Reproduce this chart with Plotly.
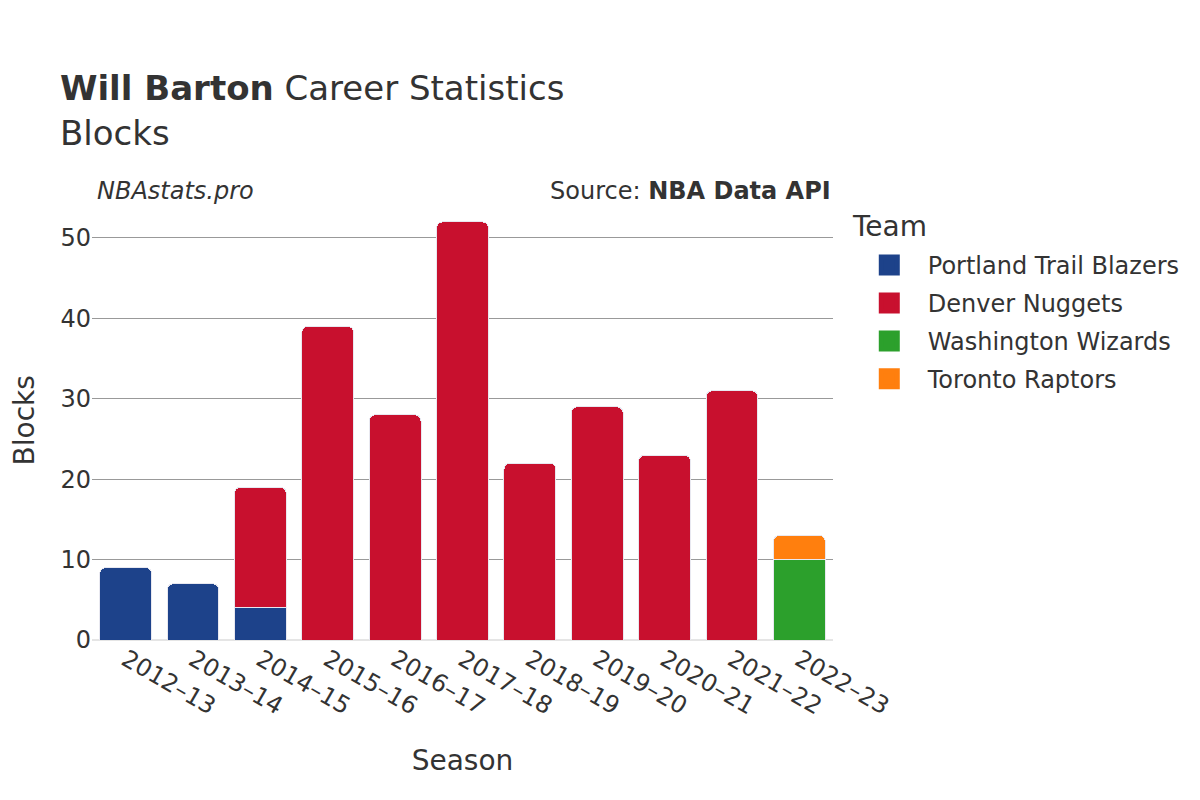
import plotly.graph_objects as go

seasons = ["2012–13", "2013–14", "2014–15", "2015–16", "2016–17", "2017–18",
           "2018–19", "2019–20", "2020–21", "2021–22", "2022–23"]

teams = ["Portland Trail Blazers", "Denver Nuggets", "Washington Wizards", "Toronto Raptors"]
colors = ["#1d428a", "#c8102e", "#2ca02c", "#ff7f0e"]

portland = [9, 7, 4, None, None, None, None, None, None, None, None]
denver = [None, None, 15, 39, 28, 52, 22, 29, 23, 31, None]
washington = [None, None, None, None, None, None, None, None, None, None, 10]
toronto = [None, None, None, None, None, None, None, None, None, None, 3]

values = [portland, denver, washington, toronto]

fig = go.Figure()
for name, col, vals in zip(teams, colors, values):
    fig.add_trace(go.Bar(
        x=seasons, y=vals, name=name, legendgroup=name, showlegend=False,
        marker=dict(color=col, line=dict(color="#e8e8f0", width=1)),
    ))
# legend proxies (larger squares)
for name, col in zip(teams, colors):
    fig.add_trace(go.Scatter(
        x=[None], y=[None], mode="markers", name=name, legendgroup=name,
        marker=dict(symbol="square", size=16, color=col,
                    line=dict(color=col, width=5)),
    ))

font_family = "DejaVu Sans"
fig.update_layout(
    barmode="stack",
    barcornerradius=6,
    bargap=0.23,
    width=1200, height=800,
    paper_bgcolor="white", plot_bgcolor="white",
    font=dict(family=font_family, color="#333333", size=24),
    margin=dict(l=84, r=375, t=193, b=168),
    title=dict(
        text="<b>Will Barton</b> Career Statistics<br>Blocks",
        x=0.0433, xanchor="left", y=0.8845, yanchor="top",
        font=dict(size=34, color="#333333"),
    ),
    xaxis=dict(
        title=dict(text="Season", font=dict(size=28), standoff=30),
        tickangle=30, showgrid=False, zeroline=False,
        tickfont=dict(size=24), automargin=False,
    ),
    yaxis=dict(
        range=[0, 54.6], showgrid=True, gridcolor="#999999", gridwidth=1,
        zeroline=True, zerolinecolor="#e5e5e5", zerolinewidth=2,
        tickvals=[0, 10, 20, 30, 40, 50], tickfont=dict(size=24),
        automargin=False,
    ),
    legend=dict(
        x=1.024, xanchor="left", y=0.9043, yanchor="top",
        font=dict(size=24), itemsizing="trace", traceorder="grouped",
        itemwidth=67, tracegroupgap=3.7,
    ),
    annotations=[
        dict(text="<i>NBAstats.pro</i>", xref="paper", yref="paper",
             x=0.004, y=1.023, xanchor="left", yanchor="middle",
             showarrow=False, font=dict(size=24, color="#333333")),
        dict(text="Source: <b>NBA Data API</b>", xref="paper", yref="paper",
             x=1.0, y=1.023, xanchor="right", yanchor="middle",
             showarrow=False, font=dict(size=24, color="#333333")),
        dict(text="Blocks", xref="paper", yref="paper", textangle=-90,
             x=-0.0905, y=0.5, xanchor="center", yanchor="middle",
             showarrow=False, font=dict(size=28, color="#333333")),
        dict(text="Team", xref="paper", yref="paper",
             x=1.023, y=0.9408, xanchor="left", yanchor="middle",
             showarrow=False, font=dict(size=28, color="#333333")),
    ],
)

fig.write_html("out.html")
